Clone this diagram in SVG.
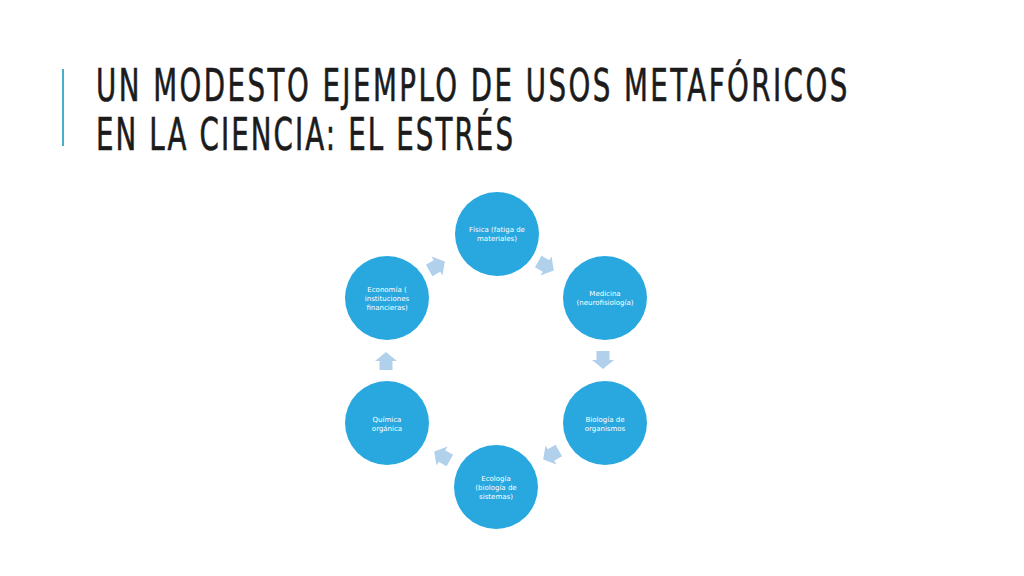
<svg xmlns="http://www.w3.org/2000/svg" width="1024" height="576" viewBox="0 0 1024 576">
<style>
.title{font-family:"DejaVu Sans Condensed","DejaVu Sans",sans-serif;font-stretch:condensed;font-size:44px;fill:#1b1b1b;stroke:#1b1b1b;stroke-width:0.6px;letter-spacing:3px}
.node circle{fill:#29a8e0}
.node text{font-family:"DejaVu Sans","Liberation Sans",sans-serif;font-size:7px;fill:#ffffff;text-anchor:middle}
.arr{fill:#a9cbea;opacity:0.9}
</style>
<defs>
<path id="ar" d="M-9,-6.5 L0,-6.5 L0,-11 L9,0 L0,11 L0,6.5 L-9,6.5 Z"/>
</defs>
<rect width="1024" height="576" fill="#ffffff"/>
<rect x="62" y="69" width="2" height="77" fill="#4aaec8"/>
<g id="title">
<text class="title" transform="translate(96,101) scale(0.7,1)" x="0" y="0" style="letter-spacing:3.5px">UN MODESTO EJEMPLO DE USOS METAFÓRICOS</text>
<text class="title" transform="translate(96,150) scale(0.7,1)" x="0" y="0">EN LA CIENCIA: EL ESTRÉS</text>
</g>
<g id="connectors">
<use href="#ar" class="arr" transform="translate(437,266) rotate(-30)"/>
<use href="#ar" class="arr" transform="translate(546,266) rotate(30)"/>
<use href="#ar" class="arr" transform="translate(603,360) rotate(90)"/>
<use href="#ar" class="arr" transform="translate(551,455) rotate(150)"/>
<use href="#ar" class="arr" transform="translate(442,456) rotate(210)"/>
<use href="#ar" class="arr" transform="translate(386,361) rotate(270)"/>
</g>
<g id="fisica" class="node">
<circle cx="497" cy="234" r="42"/>
<text x="497" y="232">Física (fatiga de</text>
<text x="497" y="241">materiales)</text>
</g>
<g id="medicina" class="node">
<circle cx="605" cy="298" r="42"/>
<text x="605" y="296">Medicina</text>
<text x="605" y="305">(neurofisiología)</text>
</g>
<g id="biologia" class="node">
<circle cx="605" cy="423" r="42"/>
<text x="605" y="422">Biología de</text>
<text x="605" y="431">organismos</text>
</g>
<g id="ecologia" class="node">
<circle cx="496" cy="487" r="42"/>
<text x="496" y="481">Ecología</text>
<text x="496" y="490">(biología de</text>
<text x="496" y="499">sistemas)</text>
</g>
<g id="quimica" class="node">
<circle cx="387" cy="423" r="42"/>
<text x="387" y="422">Química</text>
<text x="387" y="431">orgánica</text>
</g>
<g id="economia" class="node">
<circle cx="387" cy="298" r="42"/>
<text x="387" y="292">Economía (</text>
<text x="387" y="301">instituciones</text>
<text x="387" y="310">financieras)</text>
</g>
</svg>
